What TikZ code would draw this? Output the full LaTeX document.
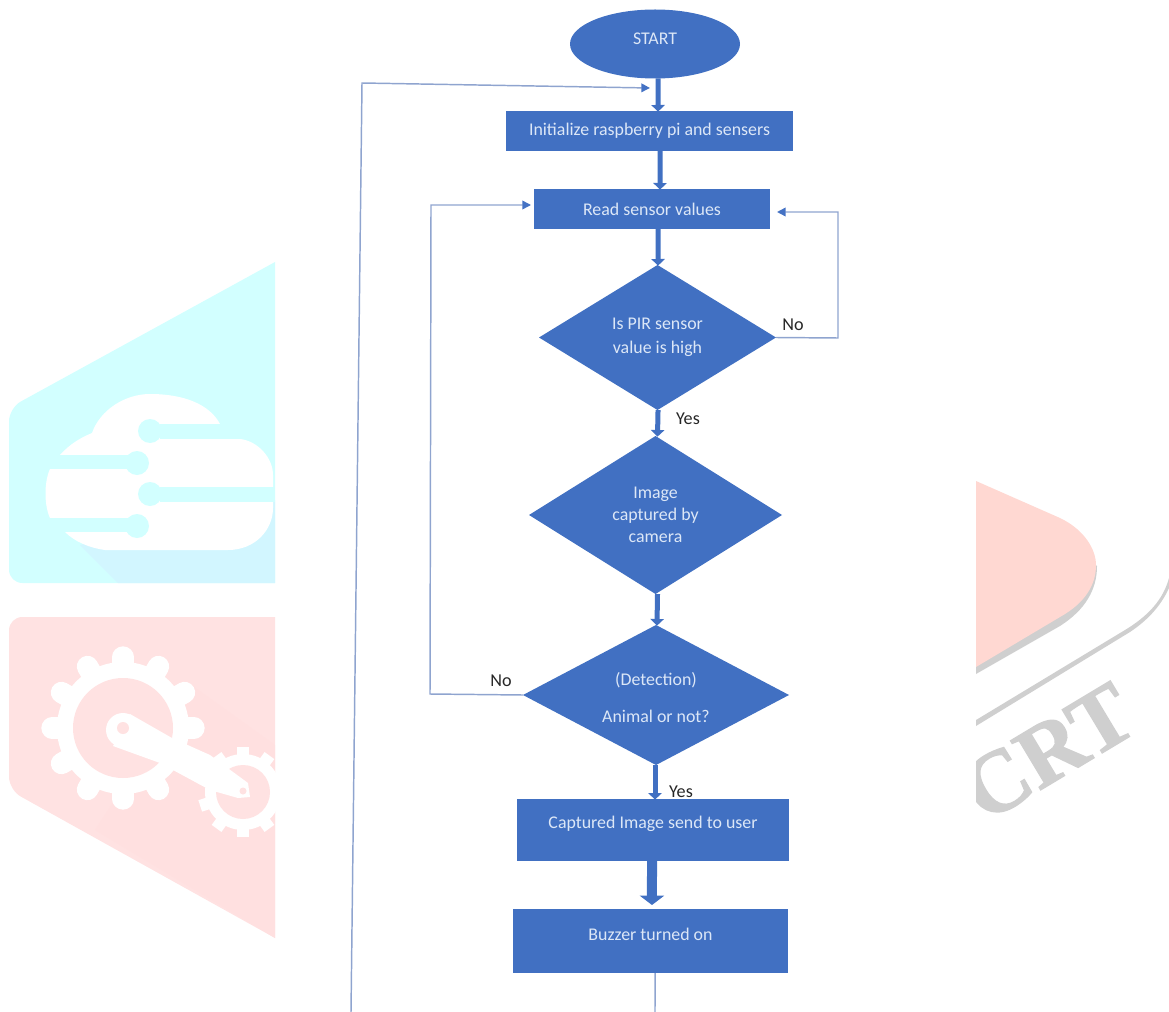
\documentclass[tikz,border=0pt]{standalone}
\usepackage{fontspec}
\setmainfont{Carlito}
\newfontfamily\wmfont[BoldFeatures={FakeBold=1.5}]{Liberation Serif}
\usetikzlibrary{shapes.geometric,arrows.meta,calc}
\definecolor{boxblue}{HTML}{4170C2}
\definecolor{boxtext}{HTML}{DCE7F7}
\definecolor{thinblue}{HTML}{8FA4CF}
\definecolor{headblue}{HTML}{4472C4}
\definecolor{wmcyan}{HTML}{D2FFFF}
\definecolor{wmcyanb}{HTML}{D2F6FF}
\definecolor{wmpink}{HTML}{FFE2E2}
\definecolor{wmpinkb}{HTML}{FFE0E0}
\definecolor{wmred}{HTML}{FFD8D2}
\definecolor{wmgrey}{HTML}{CFCFCF}
\tikzset{
  box/.style={draw=none,fill=boxblue,text=boxtext,inner sep=0pt,outer sep=0pt,font=\fontsize{13.4}{16}\selectfont,align=center},
  rectbox/.style={box,rectangle,minimum width=#1},
  decision/.style={box,diamond,shape aspect=1.6},
  blockarrow/.style={draw=boxblue,line width=3.75pt,-{Triangle[width=10pt,length=5pt,color=boxblue]},shorten >=-0.5pt},
  bigblockarrow/.style={draw=boxblue,line width=7.5pt,-{Triangle[width=18pt,length=7pt,color=boxblue]}},
  thinline/.style={draw=thinblue,line width=1.1pt},
  thinarrow/.style={thinline,-{Triangle[width=6.5pt,length=6.5pt,color=headblue]}},
  lab/.style={inner sep=0pt,text=black!85,font=\fontsize{13.6}{16}\selectfont},
  tooth/.style={white,line width=#1},
}
\begin{document}
\begin{tikzpicture}[x=0.75pt,y=-0.75pt]
\useasboundingbox (0,0) rectangle (1169,1012);

% --- background marks, left, cyan
\fill[wmcyan] (275,583) -- (275,262) [rounded corners=10pt] -- (9,408) -- (9,583) [sharp corners] -- (275,583) -- cycle;
\fill[wmcyanb] (80,545) -- (118,583) -- (275,583) -- (275,500) -- cycle;
\fill[white] (60,455) .. controls (70,444) and (80,438) .. (92,433)
  .. controls (100,410) and (125,394) .. (150,394)
  .. controls (185,394) and (210,405) .. (220,424) -- (240,439)
  .. controls (258,441) and (273,458) .. (273,475) -- (273,508)
  .. controls (273,530) and (255,550) .. (228,550) -- (105,550)
  .. controls (90,548) and (75,542) .. (65,532) -- (50,518)
  .. controls (44,505) and (44,482) .. (50,469) -- cycle;
\fill[wmcyan] (160,424) rectangle (275,439);
\fill[wmcyan] (160,487) rectangle (275,502);
\fill[wmcyan] (40,455) rectangle (135,469);
\fill[wmcyan] (40,518) rectangle (135,532);
\fill[wmcyan] (150,431) circle[radius=12];
\fill[wmcyan] (150,494) circle[radius=12];
\fill[wmcyan] (137,463) circle[radius=12];
\fill[wmcyan] (137,526) circle[radius=12];

% --- background marks, left, pink
\fill[wmpink] (275,617) -- (275,938) [rounded corners=10pt] -- (9,790) -- (9,617) [sharp corners] -- (275,617) -- cycle;
\fill[wmpinkb] (190,684) -- (275,745) -- (275,938) -- (95,830) -- cycle;
\foreach \a in {0,30,...,330} \draw[tooth=16pt,line cap=round] (123,728) -- ++(\a:71);
\foreach \a in {90,126,...,450} \draw[tooth=9pt] (243,792) -- ++(\a:45);
\fill[white] (123,728) circle[radius=66];
\fill[white] (243,792) circle[radius=38];
\fill[wmpink] (123,728) circle[radius=50];
\fill[wmpink] (243,792) circle[radius=27];
\fill[white] (130,714) -- (172,738) -- (210,755) -- (248,783) -- (250,797) -- (238,798) -- (210,790) -- (160,763) -- (113,746) -- cycle;
\fill[white] (123,730) circle[radius=17];
\fill[wmpink] (123,728) circle[radius=6];
\fill[wmpink] (243,791) circle[radius=3.5];

% --- background marks, right
\fill[wmgrey] (976,486) -- (976,674) -- (1060,626) .. controls (1085,610) and (1097,590) .. (1097,566) -- cycle;
\fill[wmred] (976,481) -- (1060,518) .. controls (1085,530) and (1096,550) .. (1096,565)
  .. controls (1096,585) and (1085,603) .. (1060,617) -- (976,667) -- cycle;
\fill[wmgrey] (976,720) -- (1125,630) .. controls (1148,616) and (1163,600) .. (1169,578)
  -- (1169,588) .. controls (1160,608) and (1145,622) .. (1130,632) -- (976,726) -- cycle;
\begin{scope}
  \clip (976,660) rectangle (1169,860);
  \node[rotate=31,text=wmgrey,inner sep=0pt] (wm) at (1048,752) {\wmfont\bfseries\fontsize{66}{70}\selectfont CRT};
\end{scope}

% --- flowchart
\node[box,ellipse,minimum width=127.5pt,minimum height=51.75pt] (start) at (655,44) {\raisebox{3.75pt}[\height][\depth]{START}};
\node[rectbox=215.25pt,minimum height=30pt] (init) at (649.5,131) {Initialize raspberry pi and sensers};
\node[rectbox=177pt,minimum height=30pt] (read) at (652,209) {Read sensor values};
\node[decision,minimum width=177.75pt,minimum height=108.75pt] (d1) at (657.5,337.5) {Is PIR sensor\\[2pt]value is high};
\node[decision,minimum width=189.75pt,minimum height=118.5pt] (d2) at (655.5,515) {Image\\[0.5pt]captured by\\[0.5pt]camera};
\node[decision,minimum width=199.5pt,minimum height=105pt] (d3) at (656,695) {\raisebox{-3.75pt}[\height][\depth]{\begin{tabular}{@{}c@{}}(Detection)\\[11.75pt]Animal or not?\end{tabular}}};
\node[rectbox=204pt,minimum height=46.5pt] (cap) at (653,830) {\raisebox{5pt}[\height][\depth]{Captured Image send to user}};
\node[rectbox=206.25pt,minimum height=48pt] (buz) at (650.5,941) {\raisebox{5pt}[\height][\depth]{Buzzer turned on}};

\node[lab] (lno1) at (793,325) {No};
\node[lab] (lyes1) at (688,419) {Yes};
\node[lab] (lno2) at (501,681) {No};
\node[lab] (lyes2) at (681,792) {Yes};

\draw[blockarrow] ([xshift=2.25pt]start.south) -- ([xshift=6.4pt]init.north);
\draw[blockarrow] ([xshift=8pt]init.south) -- ([xshift=6pt]read.north);
\draw[blockarrow] ([xshift=4.5pt]read.south) -- ([xshift=0.4pt]d1.north);
\draw[blockarrow] ([xshift=0.4pt]d1.south) -- ([xshift=1.5pt]d2.north);
\draw[blockarrow] ([xshift=1.5pt]d2.south) -- ([xshift=0.75pt]d3.north);
\draw[blockarrow] ([xshift=-0.75pt]d3.south) -- ([xshift=1.5pt]cap.north);
\draw[bigblockarrow] ([xshift=-0.75pt]cap.south) -- ([xshift=1.1pt,yshift=3pt]buz.north);

\coordinate (readin) at (777,212);
\coordinate (rightcorner) at (838,338);
\coordinate (rightup) at (838,212);
\draw[thinarrow] (d1.east) -- (rightcorner) -- (rightup) -- (readin);

\coordinate (leftcorner) at (430,694);
\coordinate (leftup) at (431,205);
\coordinate (readleft) at (531,205);
\draw[thinarrow] (d3.west) -- (leftcorner) -- (leftup) -- (readleft);

\coordinate (buzend) at (655,1012);
\draw[thinline] ([xshift=3.4pt]buz.south) -- (buzend);
\coordinate (outerbottom) at (351,1012);
\coordinate (outertop) at (362,83);
\coordinate (initin) at (650,88);
\draw[thinarrow] (outerbottom) -- (outertop) -- (initin);
\end{tikzpicture}
\end{document}
